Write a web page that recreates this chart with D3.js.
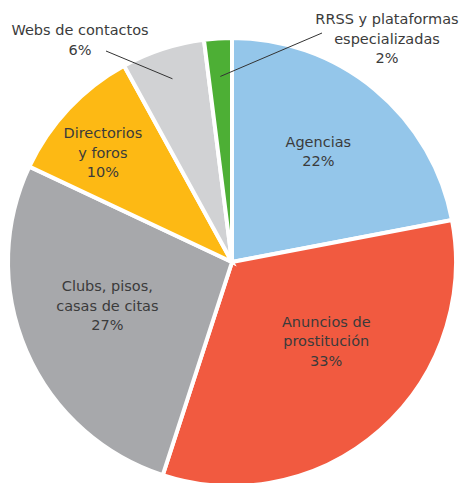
<!DOCTYPE html>
<html>
<head>
<meta charset="utf-8">
<script src="https://cdn.jsdelivr.net/npm/d3@7"></script>
<style>
  body { margin: 0; background: #fff; }
  text { font-family: "DejaVu Sans", sans-serif; font-size: 14.5px; fill: #3b3b3b; }
</style>
</head>
<body>
<div class="chart"></div>
<script>
// data
var categories = ["Agencias", "Anuncios de prostitución", "Clubs, pisos, casas de citas",
                  "Directorios y foros", "Webs de contactos", "RRSS y plataformas especializadas"];
var values = [22, 33, 27, 10, 6, 2];
var labelLines = [
  ["Agencias"],
  ["Anuncios de", "prostitución"],
  ["Clubs, pisos,", "casas de citas"],
  ["Directorios", "y foros"],
  ["Webs de contactos"],
  ["RRSS y plataformas", "especializadas"]
];
var colors = ["#94c6ea", "#f15a40", "#a7a8ab", "#fdb914", "#d1d2d4", "#4daf35"];

var svgWidth = 461;
var svgHeight = 483;
var cx = 232, cy = 262, radius = 224;

var svg = d3.select(".chart")
  .append("svg")
  .attr("width", svgWidth)
  .attr("height", svgHeight);

var g = svg.append("g")
  .attr("transform", `translate(${cx}, ${cy})`);

var data = categories.map(function(c, i) {
  return { name: c, value: values[i], lines: labelLines[i], color: colors[i] };
});

var pie = d3.pie().sort(null).value(d => d.value);
var arc = d3.arc().innerRadius(0).outerRadius(radius);
var arcs = pie(data);

g.selectAll("path")
  .data(arcs)
  .enter()
  .append("path")
  .attr("d", arc)
  .attr("fill", d => d.data.color)
  .attr("stroke", "#fff")
  .attr("stroke-width", 4)
  .attr("stroke-linejoin", "miter");

// inside labels: radius factor and angle nudge (degrees) per slice
var labelR = [0.626, 0.55, 0.59, 0.755];
var labelDa = [-1.6, -8.5, 4, -3];
arcs.slice(0, 4).forEach(function(d, i) {
  var a = (d.startAngle + d.endAngle) / 2 + labelDa[i] * Math.PI / 180;
  var r = radius * labelR[i];
  var x = r * Math.sin(a), y = -r * Math.cos(a);
  var lines = d.data.lines.concat([d.data.value + "%"]);
  var t = g.append("text").attr("text-anchor", "middle");
  lines.forEach(function(l, j) {
    t.append("tspan")
      .attr("x", x)
      .attr("y", y + (j - (lines.length - 1) / 2) * 19.5 + 5)
      .text(l);
  });
});

// outside labels with leader lines
var outside = [
  { idx: 4, lineR: 0.86, tx: 80 - cx, ty: 35 - cy, end: [106 - cx, 51 - cy] },
  { idx: 5, lineR: 0.83, tx: 387 - cx, ty: 24 - cy, end: [322 - cx, 33 - cy] }
];
outside.forEach(function(o) {
  var d = arcs[o.idx];
  var a = (d.startAngle + d.endAngle) / 2;
  var r = radius * o.lineR;
  g.append("line")
    .attr("x1", r * Math.sin(a))
    .attr("y1", -r * Math.cos(a))
    .attr("x2", o.end[0])
    .attr("y2", o.end[1])
    .attr("stroke", "#333")
    .attr("stroke-width", 1);
  var lines = d.data.lines.concat([d.data.value + "%"]);
  var t = g.append("text").attr("text-anchor", "middle");
  lines.forEach(function(l, j) {
    t.append("tspan")
      .attr("x", o.tx)
      .attr("y", o.ty + j * 19.5)
      .text(l);
  });
});
</script>
</body>
</html>
